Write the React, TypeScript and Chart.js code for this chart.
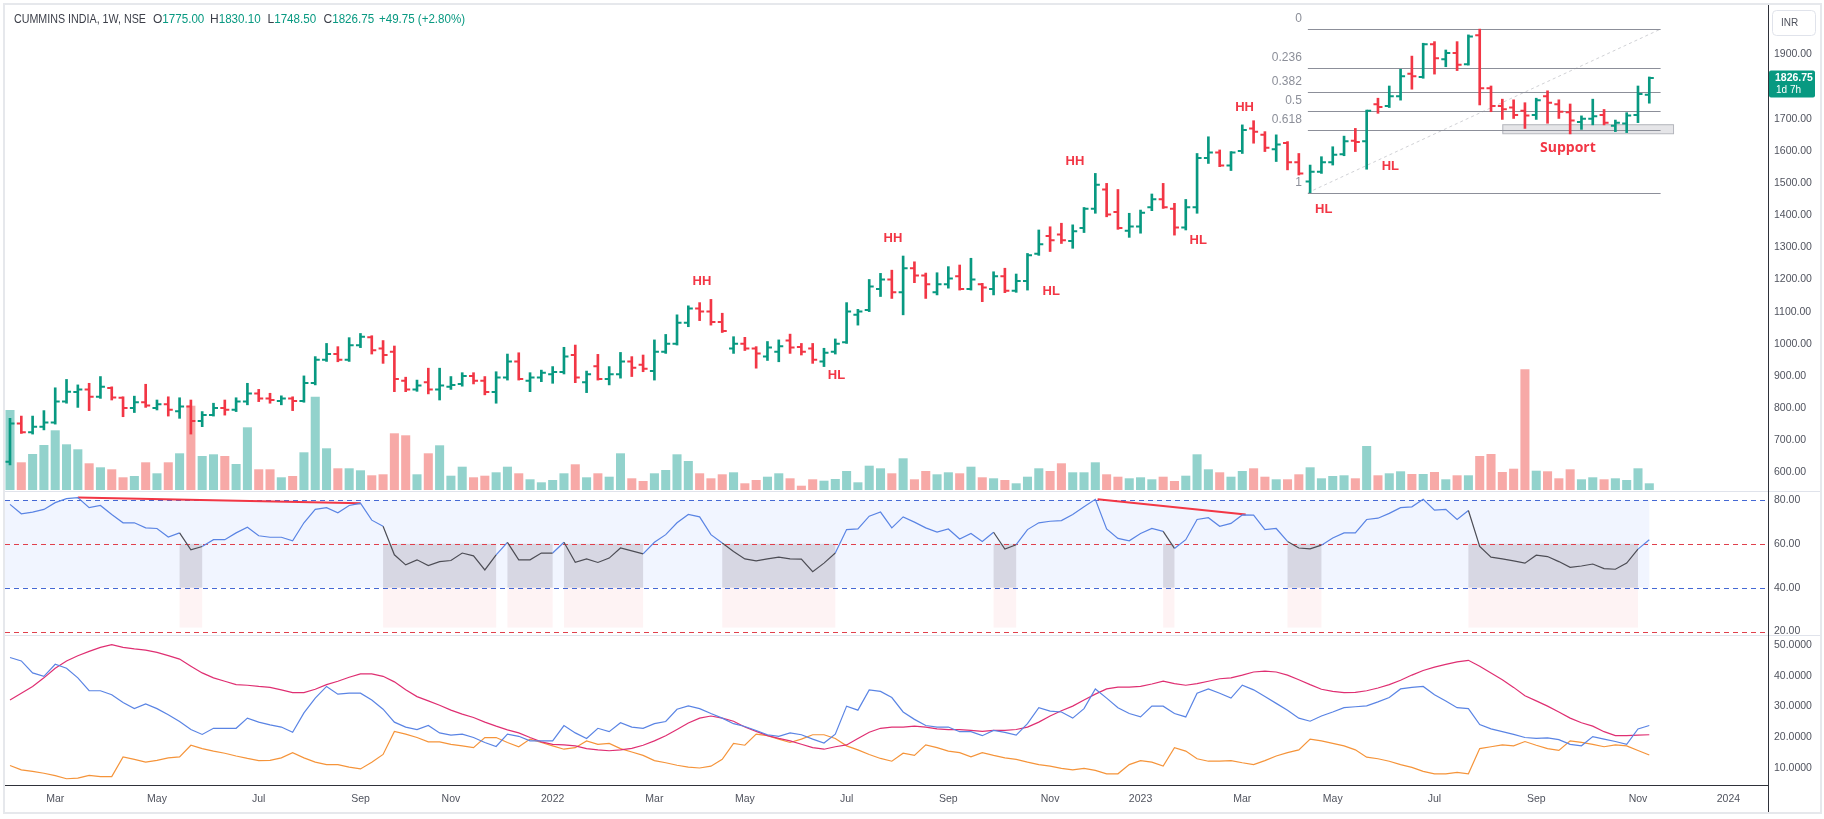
import React, { useEffect, useRef } from 'react';
import { Chart, registerables } from 'chart.js';

Chart.register(...registerables);

// ---------------- DATA (weekly bars, Feb 2021 – Nov 2023) ----------------
const opens = [
  633, 752, 725, 742, 755, 820, 850, 858, 835, 862,
  832, 800, 818, 800, 812, 790, 805, 760, 778, 800,
  795, 820, 845, 830, 822, 830, 822, 878, 950, 968,
  950, 995, 1020, 985, 975, 885, 858, 880, 858, 866,
  875, 900, 885, 850, 895, 945, 885, 895, 905, 912,
  965, 880, 930, 890, 905, 945, 935, 915, 975, 1000,
  1065, 1110, 1100, 1068, 985, 1000, 985, 960, 975, 1010,
  990, 985, 945, 975, 1005, 1090, 1105, 1170, 1200, 1160,
  1235, 1212, 1160, 1185, 1210, 1170, 1185, 1170, 1210, 1165,
  1195, 1280, 1335, 1340, 1320, 1360, 1420, 1480, 1410, 1352,
  1365, 1425, 1450, 1420, 1362, 1425, 1578, 1595, 1555, 1600,
  1670, 1650, 1605, 1625, 1565, 1505, 1535, 1565, 1590, 1632,
  1630, 1745, 1740, 1770, 1840, 1830, 1932, 1885, 1905, 1870,
  1960, 1795, 1740, 1735, 1725, 1712, 1770, 1745, 1720, 1690,
  1700, 1712, 1678, 1685, 1712, 1775,
];
const highs = [
  768, 775, 775, 792, 863, 889, 872, 877, 898, 866,
  835, 837, 874, 825, 835, 832, 825, 789, 815, 825,
  832, 877, 858, 846, 838, 835, 900, 960, 1001, 991,
  1019, 1032, 1025, 1010, 993, 896, 887, 924, 924, 898,
  910, 910, 898, 913, 968, 972, 910, 918, 929, 989,
  996, 915, 967, 929, 973, 960, 965, 1012, 1029, 1090,
  1118, 1128, 1138, 1095, 1022, 1020, 991, 1007, 1012, 1030,
  1001, 1001, 986, 1015, 1128, 1107, 1200, 1219, 1229, 1273,
  1255, 1220, 1221, 1240, 1245, 1266, 1188, 1224, 1235, 1217,
  1281, 1354, 1364, 1375, 1370, 1424, 1530, 1499, 1480, 1406,
  1416, 1466, 1499, 1437, 1449, 1592, 1644, 1603, 1598, 1681,
  1694, 1660, 1650, 1629, 1592, 1556, 1582, 1613, 1646, 1670,
  1727, 1764, 1802, 1854, 1895, 1935, 1940, 1914, 1940, 1961,
  1979, 1802, 1761, 1759, 1750, 1764, 1787, 1759, 1746, 1709,
  1761, 1729, 1696, 1719, 1802, 1830.1,
];
const lows = [
  623, 721, 719, 732, 750, 815, 802, 792, 830, 825,
  773, 786, 802, 794, 775, 768, 719, 742, 775, 778,
  789, 810, 820, 815, 810, 792, 818, 872, 945, 944,
  945, 988, 968, 939, 851, 851, 852, 844, 825, 858,
  868, 875, 841, 815, 887, 887, 851, 882, 877, 906,
  879, 848, 887, 872, 893, 898, 913, 887, 970, 996,
  1053, 1072, 1058, 1035, 970, 979, 924, 948, 944, 970,
  965, 939, 929, 968, 1001, 1058, 1100, 1147, 1141, 1090,
  1190, 1141, 1152, 1173, 1167, 1167, 1131, 1152, 1159, 1160,
  1167, 1275, 1287, 1312, 1297, 1346, 1406, 1395, 1356, 1331,
  1344, 1414, 1421, 1338, 1354, 1406, 1561, 1551, 1539, 1592,
  1624, 1598, 1567, 1541, 1525, 1470, 1530, 1556, 1585, 1598,
  1543, 1717, 1735, 1758, 1792, 1826, 1839, 1862, 1850, 1867,
  1743, 1722, 1698, 1701, 1670, 1698, 1686, 1701, 1653, 1667,
  1681, 1681, 1660, 1657, 1688, 1748.5,
];
const closes = [
  752, 725, 742, 755, 820, 851, 858, 835, 866, 833,
  800, 818, 808, 812, 795, 805, 760, 778, 800, 795,
  820, 845, 830, 825, 830, 822, 878, 950, 968, 950,
  995, 1022, 980, 965, 890, 858, 870, 858, 870, 872,
  900, 885, 850, 895, 945, 890, 895, 910, 912, 960,
  895, 905, 890, 905, 945, 925, 922, 975, 1000, 1065,
  1110, 1100, 1068, 1040, 1000, 985, 970, 988, 992, 988,
  975, 950, 972, 1000, 1100, 1100, 1178, 1200, 1160, 1235,
  1212, 1185, 1185, 1203, 1170, 1200, 1175, 1210, 1165, 1195,
  1275, 1310, 1322, 1322, 1350, 1420, 1495, 1402, 1360, 1365,
  1408, 1450, 1425, 1362, 1425, 1578, 1595, 1555, 1595, 1665,
  1660, 1610, 1620, 1565, 1530, 1535, 1565, 1588, 1630, 1628,
  1725, 1737, 1770, 1832, 1832, 1932, 1888, 1905, 1868, 1956,
  1795, 1740, 1730, 1712, 1710, 1758, 1750, 1722, 1695, 1700,
  1708, 1688, 1688, 1710, 1777, 1826.75,
];
// volume, millions of shares
const volumes = [
  8.0, 2.77, 3.6, 4.5, 5.97, 4.57, 4.07, 2.67, 2.27, 2.07,
  1.27, 1.4, 2.77, 1.67, 2.77, 3.67, 8.43, 3.4, 3.57, 3.4,
  2.6, 6.27, 2.07, 2.07, 1.27, 1.4, 3.77, 9.33, 4.17, 2.17,
  2.17, 1.97, 1.47, 1.57, 5.67, 5.47, 1.57, 3.67, 4.47, 1.43,
  2.33, 1.27, 1.43, 1.77, 2.33, 1.67, 1.07, 0.77, 1.0, 1.67,
  2.57, 1.27, 1.67, 1.33, 3.67, 1.17, 0.9, 1.67, 2.0, 3.57,
  2.9, 1.67, 1.17, 1.57, 1.77, 0.67, 1.0, 1.33, 1.67, 1.17,
  0.43, 1.07, 0.93, 1.1, 1.9, 0.77, 2.43, 2.17, 1.67, 3.17,
  1.07, 1.9, 1.57, 1.77, 1.67, 2.33, 1.27, 1.17, 1.0, 0.67,
  1.33, 2.17, 1.9, 2.67, 1.77, 1.77, 2.77, 1.57, 1.33, 1.17,
  1.27, 1.07, 1.33, 0.9, 1.43, 3.57, 2.07, 1.77, 1.33, 1.9,
  2.17, 1.33, 1.07, 1.07, 1.57, 2.27, 1.17, 1.4, 1.47, 1.17,
  4.4, 1.47, 1.67, 1.87, 1.6, 1.6, 1.8, 1.07, 1.47, 1.47,
  3.4, 3.6, 1.8, 2.13, 12.07, 1.93, 1.87, 1.17, 2.07, 1.07,
  1.27, 1.07, 1.17, 1.0, 2.17, 0.67,
];
const rsi = [
  78.0, 73.7, 74.5, 75.7, 78.8, 80.6, 81.1, 76.5, 77.5, 73.4,
  69.6, 69.6, 67.3, 67.0, 63.1, 65.0, 57.3, 58.8, 61.9, 61.9,
  65.0, 67.6, 63.7, 63.0, 63.0, 61.4, 69.6, 75.7, 76.5, 74.2,
  77.5, 78.5, 70.8, 68.0, 55.0, 50.4, 52.7, 50.1, 51.9, 52.4,
  55.8, 54.5, 48.1, 55.0, 60.7, 52.7, 52.7, 55.8, 55.8, 60.7,
  51.6, 53.1, 51.5, 53.5, 58.1, 56.8, 55.4, 60.7, 64.2, 69.6,
  73.4, 72.3, 64.2, 60.4, 56.5, 53.1, 52.2, 53.1, 53.9, 53.1,
  53.0, 47.3, 51.2, 55.8, 66.5, 66.8, 72.6, 74.5, 67.3, 72.3,
  69.9, 67.3, 65.4, 66.8, 62.2, 64.7, 61.1, 65.3, 57.6, 59.6,
  66.5, 69.6, 70.3, 70.6, 73.4, 76.9, 80.3, 66.8, 62.5, 61.4,
  64.7, 67.0, 65.7, 57.9, 61.9, 71.1, 71.9, 68.0, 69.3, 73.2,
  73.1, 66.5, 67.0, 61.1, 58.1, 57.7, 59.4, 62.7, 65.0, 65.0,
  71.1, 71.7, 73.9, 76.5, 76.9, 80.3, 75.4, 75.7, 71.1, 75.2,
  58.8, 53.9, 53.1, 52.2, 51.2, 54.8, 54.2, 51.9, 49.3, 49.9,
  50.8, 48.7, 48.4, 51.2, 57.6, 61.9,
];
const diPlus = [
  45.9, 44.8, 40.9, 39.8, 43.7, 42.4, 39.3, 35.1, 35.1, 33.8,
  31.3, 29.3, 30.8, 29.3, 27.3, 25.1, 22.5, 20.9, 22.9, 22.9,
  22.9, 26.2, 24.9, 24.0, 23.3, 21.6, 27.9, 32.7, 36.5, 34.0,
  34.3, 34.3, 32.1, 29.1, 24.9, 23.3, 22.5, 23.8, 21.4, 20.7,
  21.0, 19.9, 18.3, 17.0, 21.0, 20.3, 18.8, 18.8, 18.8, 23.8,
  21.4, 19.6, 22.9, 21.8, 24.7, 23.3, 22.9, 24.4, 25.1, 29.1,
  30.2, 29.3, 27.7, 26.2, 24.4, 23.5, 22.2, 20.8, 20.3, 21.4,
  20.8, 19.4, 18.1, 21.0, 30.1, 28.8, 35.4, 34.9, 32.9, 28.2,
  25.8, 23.8, 23.3, 23.3, 21.8, 21.8, 20.5, 22.2, 21.6, 20.7,
  24.4, 29.6, 28.5, 28.2, 26.2, 29.3, 35.7, 32.7, 29.6, 27.7,
  26.6, 30.1, 30.1, 27.7, 26.6, 34.3, 35.7, 34.3, 32.7, 36.9,
  35.4, 33.2, 31.0, 28.8, 26.2, 25.2, 26.9, 28.2, 29.6, 29.9,
  30.2, 31.5, 32.9, 35.7, 36.2, 36.5, 33.8, 31.8, 29.6, 29.3,
  24.1, 22.7, 21.8, 20.9, 19.9, 19.6, 19.8, 19.2, 17.7, 17.2,
  20.2, 19.4, 18.6, 17.7, 22.7, 23.8,
];
const adx = [
  32.1, 34.3, 36.5, 39.3, 42.4, 44.8, 46.5, 47.9, 49.2, 50.1,
  49.2, 48.7, 48.3, 47.6, 46.5, 45.4, 43.1, 40.9, 39.3, 38.2,
  37.1, 36.9, 36.5, 36.2, 35.4, 34.5, 34.5, 35.6, 37.1, 38.2,
  39.5, 40.6, 40.6, 39.8, 38.0, 35.4, 33.2, 31.8, 30.4, 28.8,
  27.5, 26.4, 24.9, 23.6, 22.4, 21.4, 19.9, 18.5, 17.7, 17.5,
  17.2, 16.3, 15.9, 15.6, 15.9, 16.4, 17.4, 18.8, 20.5, 22.5,
  24.6, 26.2, 26.9, 26.2, 25.2, 23.3, 21.9, 20.5, 19.6, 18.8,
  17.7, 16.6, 16.1, 16.9, 17.5, 19.6, 21.6, 22.9, 23.3, 23.3,
  23.6, 23.3, 22.7, 22.5, 22.5, 22.2, 21.9, 22.2, 22.2, 22.5,
  23.3, 24.9, 26.9, 28.6, 30.1, 32.1, 34.0, 35.7, 36.3, 36.3,
  36.5, 37.3, 38.2, 37.4, 36.9, 37.4, 38.2, 39.0, 39.3, 40.2,
  41.2, 41.5, 41.2, 40.2, 38.7, 37.1, 35.6, 34.9, 34.5, 34.6,
  35.1, 36.0, 37.1, 38.5, 40.2, 41.7, 42.8, 43.7, 44.5, 45.0,
  43.1, 40.9, 38.7, 36.2, 33.5, 31.8, 30.1, 28.2, 26.2, 24.7,
  23.6, 21.8, 20.5, 20.5, 20.7, 20.8,
];
const diMinus = [
  10.8, 9.4, 8.9, 8.3, 7.5, 6.5, 6.7, 7.6, 7.2, 7.2,
  13.6, 12.8, 11.9, 12.5, 13.3, 13.6, 17.4, 16.3, 15.5, 14.8,
  13.9, 13.1, 12.4, 12.5, 13.3, 15.0, 13.3, 11.9, 11.1, 11.1,
  10.3, 9.7, 11.9, 14.4, 21.9, 21.0, 19.9, 18.5, 18.5, 17.7,
  17.2, 16.6, 19.9, 19.9, 18.3, 16.9, 19.4, 18.3, 17.2, 16.1,
  16.6, 18.8, 17.7, 18.0, 16.3, 15.2, 14.1, 12.4, 11.7, 10.9,
  10.3, 10.0, 10.6, 12.8, 18.0, 17.4, 21.0, 20.5, 19.4, 18.3,
  19.4, 20.8, 20.8, 19.6, 17.2, 15.9, 14.4, 13.1, 12.2, 14.8,
  14.1, 17.5, 16.6, 15.5, 15.0, 13.6, 15.0, 14.1, 13.3, 12.8,
  11.9, 11.1, 10.6, 9.9, 9.4, 9.9, 9.2, 8.1, 8.1, 11.1,
  12.4, 11.9, 10.6, 16.6, 15.5, 13.0, 12.2, 12.2, 12.4, 11.7,
  11.1, 12.4, 13.9, 15.0, 15.9, 19.4, 18.8, 18.0, 17.2, 15.9,
  13.5, 13.0, 12.2, 11.1, 10.2, 8.9, 8.1, 8.1, 8.6, 8.1,
  16.3, 16.9, 17.5, 17.2, 18.6, 17.4, 16.3, 15.7, 18.8, 18.3,
  17.7, 16.9, 17.5, 17.2, 15.7, 14.2,
];

// first weekly bar of each labelled month (bar index) and its label
const monthTickBars = [4, 13, 22, 31, 39, 48, 57, 65, 74, 83, 92, 100, 109, 117, 126, 135, 144, 152];
const monthTickLabels = ['Mar', 'May', 'Jul', 'Sep', 'Nov', '2022', 'Mar', 'May', 'Jul', 'Sep', 'Nov', '2023', 'Mar', 'May', 'Jul', 'Sep', 'Nov', '2024'];
const priceTicks = [600, 700, 800, 900, 1000, 1100, 1200, 1300, 1400, 1500, 1600, 1700, 1800, 1900];
const rsiTicks = [20, 40, 60, 80];
const dmiTicks = [10, 20, 30, 40, 50];
const rsiLevelsBlue = [80, 40];
const rsiLevelsRed = [60, 20];
const fibRatios = [0, 0.236, 0.382, 0.5, 0.618, 1];
const fibLabels = ['0', '0.236', '0.382', '0.5', '0.618', '1'];
const fibSwing = { fromBar: 114.8, toBar: 146.0, low: 1470, high: 1979 };
const swingLabels = [
  { text: 'HH', bar: 61.2, price: 1195 },
  { text: 'HL', bar: 73.1, price: 903 },
  { text: 'HH', bar: 78.1, price: 1329 },
  { text: 'HL', bar: 92.1, price: 1162 },
  { text: 'HH', bar: 94.2, price: 1566 },
  { text: 'HL', bar: 105.1, price: 1321 },
  { text: 'HH', bar: 109.2, price: 1736 },
  { text: 'HL', bar: 116.2, price: 1418 },
  { text: 'HL', bar: 122.1, price: 1551 },
];
const supportZone = { fromBar: 132.0, toBar: 147.1, low: 1655, high: 1683, text: 'Support', textBar: 137.8, textPrice: 1608 };
const rsiTrendA = [{ x: 6, y: 81.1 }, { x: 31, y: 78.5 }];
const rsiTrendB = [{ x: 96.2, y: 80.3 }, { x: 109.3, y: 73.4 }];
const symbolTitle = 'CUMMINS INDIA, 1W, NSE';
const currency = 'INR';
const countdown = '1d 7h';

// ---------------- STYLE / LAYOUT ----------------
const FONT = '"Liberation Sans", Arial, sans-serif';
const UP = '#089981';
const DOWN = '#f23645';
const UP_VOL = 'rgba(38,166,154,0.5)';
const DOWN_VOL = 'rgba(239,83,80,0.5)';
const LABEL_COLOR = '#50535e';
const BLUE = '#5a84e4';
const X_MIN = -0.442;
const X_MAX = 155.5;
const AXIS_W = 56;
const RSI_SHADE_FLOOR = 21.8;

const isUp = (i: number) => closes[i] >= opens[i];

function xScale(show: boolean): any {
  return {
    type: 'linear',
    min: X_MIN,
    max: X_MAX,
    bounds: 'data',
    offset: false,
    display: show,
    grid: { display: false, drawTicks: false },
    border: { display: show, color: '#2f323a', width: 1 },
    ticks: {
      autoSkip: false,
      maxRotation: 0,
      padding: 8,
      color: LABEL_COLOR,
      font: { size: 10.5, family: FONT },
      callback: (v: any) => {
        const k = monthTickBars.indexOf(Number(v));
        return k >= 0 ? monthTickLabels[k] : '';
      },
    },
    afterBuildTicks: (s: any) => {
      s.ticks = monthTickBars.map((v) => ({ value: v }));
    },
    afterFit: (s: any) => {
      s.paddingLeft = 0;
      s.paddingRight = 0;
      if (show) s.height = 34;
    },
  };
}

function yScale(min: number, max: number, ticks: number[], digits: number): any {
  return {
    type: 'linear',
    position: 'right',
    min,
    max,
    bounds: 'data',
    grid: { display: false, drawTicks: false },
    border: { display: false },
    ticks: {
      autoSkip: false,
      padding: 6,
      color: LABEL_COLOR,
      font: { size: 10.5, family: FONT },
      callback: (v: any) => Number(v).toFixed(digits),
    },
    afterBuildTicks: (s: any) => {
      s.ticks = ticks.map((v) => ({ value: v }));
    },
    afterFit: (s: any) => {
      s.width = AXIS_W;
      s.paddingTop = 0;
      s.paddingBottom = 0;
    },
  };
}

const pricePlugin = {
  id: 'priceExtras',
  beforeDatasetsDraw(chart: any) {
    const { ctx, scales } = chart;
    const x = scales.x;
    const y = scales.y;
    ctx.save();
    // support zone
    const sx0 = x.getPixelForValue(supportZone.fromBar);
    const sx1 = x.getPixelForValue(supportZone.toBar);
    const sy0 = y.getPixelForValue(supportZone.high);
    const sy1 = y.getPixelForValue(supportZone.low);
    ctx.fillStyle = 'rgba(160,163,172,0.28)';
    ctx.fillRect(sx0, sy0, sx1 - sx0, sy1 - sy0);
    ctx.strokeStyle = '#b4b6bd';
    ctx.lineWidth = 1;
    ctx.strokeRect(sx0 + 0.5, sy0 + 0.5, sx1 - sx0, sy1 - sy0);
    // fib diagonal
    const fx0 = x.getPixelForValue(fibSwing.fromBar);
    const fx1 = x.getPixelForValue(fibSwing.toBar);
    ctx.setLineDash([3, 3]);
    ctx.strokeStyle = 'rgba(150,153,162,0.45)';
    ctx.beginPath();
    ctx.moveTo(fx0, y.getPixelForValue(fibSwing.low));
    ctx.lineTo(fx1, y.getPixelForValue(fibSwing.high));
    ctx.stroke();
    ctx.setLineDash([]);
    // fib levels
    ctx.font = '12px ' + FONT;
    ctx.textAlign = 'right';
    ctx.textBaseline = 'middle';
    fibRatios.forEach((r, k) => {
      const p = fibSwing.high - r * (fibSwing.high - fibSwing.low);
      const py = Math.round(y.getPixelForValue(p)) + 0.5;
      ctx.strokeStyle = '#8c8f99';
      ctx.beginPath();
      ctx.moveTo(fx0, py);
      ctx.lineTo(fx1, py);
      ctx.stroke();
      ctx.fillStyle = '#8c8f99';
      ctx.fillText(fibLabels[k], fx0 - 6, py - 10.5);
    });
    ctx.restore();
  },
  afterDatasetsDraw(chart: any) {
    const { ctx, scales } = chart;
    const x = scales.x;
    const y = scales.y;
    ctx.save();
    ctx.lineWidth = 2;
    for (let i = 0; i < opens.length; i++) {
      const xc = x.getPixelForValue(i);
      ctx.strokeStyle = isUp(i) ? UP : DOWN;
      ctx.beginPath();
      const yo = y.getPixelForValue(opens[i]);
      const yc = y.getPixelForValue(closes[i]);
      ctx.moveTo(xc - 4.5, yo);
      ctx.lineTo(xc, yo);
      ctx.moveTo(xc, yc);
      ctx.lineTo(xc + 4.5, yc);
      ctx.stroke();
    }
    ctx.fillStyle = '#f23645';
    ctx.textAlign = 'center';
    ctx.textBaseline = 'middle';
    ctx.font = 'bold 13px ' + FONT;
    swingLabels.forEach((l) => {
      ctx.fillText(l.text, x.getPixelForValue(l.bar), y.getPixelForValue(l.price));
    });
    ctx.font = 'bold 14px "Open Sans", ' + FONT;
    ctx.fillText(supportZone.text, x.getPixelForValue(supportZone.textBar), y.getPixelForValue(supportZone.textPrice));
    ctx.restore();
  },
  afterDraw(chart: any) {
    const { ctx, scales } = chart;
    const y = scales.y;
    const n = closes.length - 1;
    ctx.save();
    // title line
    ctx.textBaseline = 'middle';
    ctx.textAlign = 'left';
    ctx.font = '12px ' + FONT;
    ctx.fillStyle = '#3b3e48';
    ctx.fillText(symbolTitle, 14, 19.5, 132);
    const chg = closes[n] - closes[n - 1];
    const pct = (chg / closes[n - 1]) * 100;
    const parts = [
      { k: 'O', v: opens[n].toFixed(2), x: 153 },
      { k: 'H', v: highs[n].toFixed(2), x: 210 },
      { k: 'L', v: lows[n].toFixed(2), x: 267.5 },
      { k: 'C', v: closes[n].toFixed(2), x: 323.5 },
    ];
    parts.forEach((p) => {
      ctx.fillStyle = '#3b3e48';
      ctx.fillText(p.k, p.x, 19.5);
      const w = ctx.measureText(p.k).width;
      ctx.fillStyle = UP;
      ctx.fillText(p.v, p.x + w, 19.5, 42);
    });
    ctx.fillStyle = UP;
    ctx.fillText((chg >= 0 ? '+' : '') + chg.toFixed(2) + ' (' + (pct >= 0 ? '+' : '') + pct.toFixed(2) + '%)', 379, 19.5, 86);
    // currency box
    ctx.fillStyle = '#ffffff';
    ctx.strokeStyle = '#e0e3eb';
    ctx.lineWidth = 1;
    ctx.beginPath();
    ctx.roundRect(1772.5, 10.5, 43, 25, 4);
    ctx.fill();
    ctx.stroke();
    ctx.fillStyle = LABEL_COLOR;
    ctx.font = '10px ' + FONT;
    ctx.fillText(currency, 1781, 23);
    // last price label
    const ly = y.getPixelForValue(closes[n]);
    ctx.fillStyle = UP;
    ctx.beginPath();
    ctx.roundRect(1769, ly - 7.5, 46, 27, 2);
    ctx.fill();
    ctx.fillStyle = '#ffffff';
    ctx.font = 'bold 10.5px ' + FONT;
    ctx.fillText(closes[n].toFixed(2), 1775, ly + 0.5);
    ctx.font = '10px ' + FONT;
    ctx.fillText(countdown, 1776, ly + 12.5);
    ctx.restore();
  },
};

const rsiPlugin = {
  id: 'rsiBands',
  beforeDatasetsDraw(chart: any) {
    const { ctx, chartArea: a, scales } = chart;
    const x = scales.x;
    const y = scales.y;
    ctx.save();
    const xEnd = x.getPixelForValue(rsi.length - 1);
    const y80 = y.getPixelForValue(80);
    const y60 = y.getPixelForValue(60);
    const y40 = y.getPixelForValue(40);
    const yFloor = y.getPixelForValue(RSI_SHADE_FLOOR);
    ctx.fillStyle = 'rgba(41,98,255,0.065)';
    ctx.fillRect(a.left, y80, xEnd - a.left, y40 - y80);
    let i = 0;
    while (i < rsi.length) {
      if (rsi[i] < 60) {
        let j = i;
        while (j + 1 < rsi.length && rsi[j + 1] < 60) j++;
        const x0 = x.getPixelForValue(i - 1);
        const x1 = x.getPixelForValue(j);
        ctx.fillStyle = 'rgba(110,95,115,0.2)';
        ctx.fillRect(x0, y60, x1 - x0, y40 - y60);
        ctx.fillStyle = 'rgba(242,54,69,0.06)';
        ctx.fillRect(x0, y40, x1 - x0, yFloor - y40);
        i = j + 1;
      } else {
        i++;
      }
    }
    ctx.lineWidth = 1;
    ctx.setLineDash([5, 4]);
    const drawLevel = (v: number, c: string) => {
      const py = Math.round(y.getPixelForValue(v)) + 0.5;
      ctx.strokeStyle = c;
      ctx.beginPath();
      ctx.moveTo(a.left, py);
      ctx.lineTo(a.right, py);
      ctx.stroke();
    };
    rsiLevelsBlue.forEach((v) => drawLevel(v, '#4468d4'));
    rsiLevelsRed.forEach((v) => drawLevel(v, '#e0404c'));
    ctx.restore();
  },
};

const baseOptions = (padding: any): any => ({
  responsive: false,
  animation: false,
  devicePixelRatio: 1,
  events: [],
  layout: { padding },
  plugins: { legend: { display: false }, tooltip: { enabled: false } },
});

export default function App() {
  const priceRef = useRef<HTMLCanvasElement | null>(null);
  const rsiRef = useRef<HTMLCanvasElement | null>(null);
  const dmiRef = useRef<HTMLCanvasElement | null>(null);

  useEffect(() => {
    const idx = opens.map((_, i) => i);
    const priceChart = new Chart(priceRef.current as HTMLCanvasElement, {
      type: 'bar',
      data: {
        datasets: [
          {
            label: 'High-Low',
            data: idx.map((i) => ({ x: i, y: [lows[i], highs[i]] })) as any,
            backgroundColor: idx.map((i) => (isUp(i) ? UP : DOWN)),
            barThickness: 2,
            grouped: false,
            yAxisID: 'y',
            order: 1,
          } as any,
          {
            label: 'Volume',
            data: idx.map((i) => ({ x: i, y: volumes[i] })) as any,
            backgroundColor: idx.map((i) => (isUp(i) ? UP_VOL : DOWN_VOL)),
            categoryPercentage: 1,
            barPercentage: 0.8,
            grouped: false,
            yAxisID: 'yv',
            order: 2,
          } as any,
        ],
      },
      options: {
        ...baseOptions({ left: 5, right: 0, top: 5, bottom: 2 }),
        scales: {
          x: xScale(false),
          y: yScale(545, 2054, priceTicks, 2),
          yv: { type: 'linear', display: false, min: 0, max: 48.5 },
        },
      },
      plugins: [pricePlugin],
    } as any);

    const rsiChart = new Chart(rsiRef.current as HTMLCanvasElement, {
      type: 'line',
      data: {
        datasets: [
          {
            label: 'RSI',
            data: idx.map((i) => ({ x: i, y: rsi[i] })),
            borderColor: BLUE,
            borderWidth: 1.2,
            pointRadius: 0,
            tension: 0,
            segment: {
              borderColor: (c: any) => (c.p1.parsed.y < 60 ? '#4d4d55' : BLUE),
            },
          } as any,
          {
            label: 'Divergence A',
            data: rsiTrendA,
            borderColor: '#f23645',
            borderWidth: 2,
            pointRadius: 0,
          },
          {
            label: 'Divergence B',
            data: rsiTrendB,
            borderColor: '#f23645',
            borderWidth: 2,
            pointRadius: 0,
          },
        ],
      },
      options: {
        ...baseOptions({ left: 5, right: 0, top: 0, bottom: 0 }),
        scales: {
          x: xScale(false),
          y: yScale(17.95, 83.65, rsiTicks, 2),
        },
      },
      plugins: [rsiPlugin],
    } as any);

    const dmiChart = new Chart(dmiRef.current as HTMLCanvasElement, {
      type: 'line',
      data: {
        datasets: [
          { label: '+DI', data: idx.map((i) => ({ x: i, y: diPlus[i] })), borderColor: BLUE, borderWidth: 1.2, pointRadius: 0 },
          { label: 'ADX', data: idx.map((i) => ({ x: i, y: adx[i] })), borderColor: '#df2f72', borderWidth: 1.2, pointRadius: 0 },
          { label: '-DI', data: idx.map((i) => ({ x: i, y: diMinus[i] })), borderColor: '#f5943a', borderWidth: 1.2, pointRadius: 0 },
        ],
      },
      options: {
        ...baseOptions({ left: 5, right: 0, top: 0, bottom: 0 }),
        scales: {
          x: xScale(true),
          y: yScale(4.47, 52.9, dmiTicks, 4),
        },
      },
    } as any);

    return () => {
      priceChart.destroy();
      rsiChart.destroy();
      dmiChart.destroy();
    };
  }, []);

  const abs = (top: number, h: number): React.CSSProperties => ({
    position: 'absolute',
    left: 0,
    top,
    width: 1824,
    height: h,
    display: 'block',
  });

  return (
    <div style={{ position: 'fixed', left: 0, top: 0, width: 1824, height: 819, background: '#ffffff', overflow: 'hidden' }}>
      <canvas ref={priceRef} width={1824} height={492} style={abs(0, 492)} />
      <canvas ref={rsiRef} width={1824} height={144} style={abs(492, 144)} />
      <canvas ref={dmiRef} width={1824} height={183} style={abs(636, 183)} />
      <div style={{ position: 'absolute', left: 5, top: 491, width: 1815, height: 1, background: '#e0e3eb' }} />
      <div style={{ position: 'absolute', left: 5, top: 635, width: 1815, height: 1, background: '#e0e3eb' }} />
      <div style={{ position: 'absolute', left: 1768, top: 5, width: 1, height: 808, background: '#2f323a' }} />
      <div
        style={{
          position: 'absolute',
          left: 3,
          top: 3,
          width: 1819,
          height: 811,
          border: '2px solid #e6e8ec',
          boxSizing: 'border-box',
          pointerEvents: 'none',
        }}
      />
    </div>
  );
}
